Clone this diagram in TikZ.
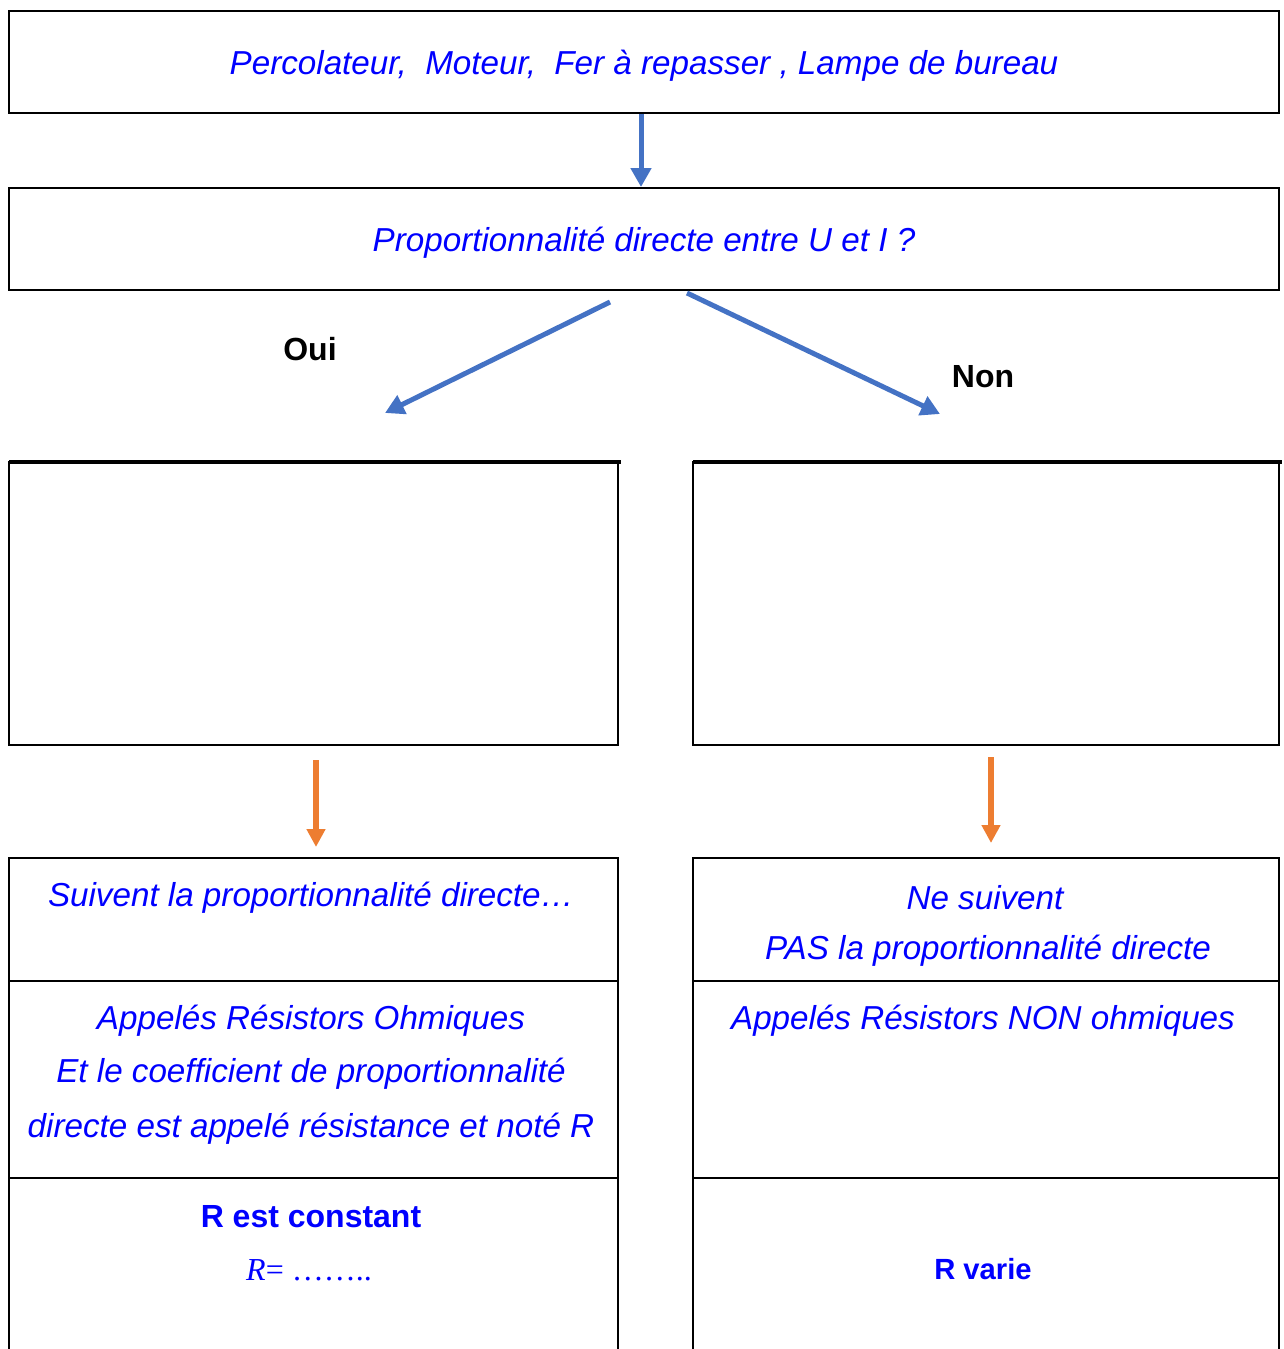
\documentclass[tikz,border=0pt]{standalone}
\usepackage{fontspec}
\setmainfont{Liberation Sans}
\newfontfamily\timesfont{Liberation Serif}
\usetikzlibrary{arrows.meta}

\definecolor{flecheBleu}{RGB}{68,114,196}
\definecolor{flecheOrange}{RGB}{237,125,49}
\definecolor{texteBleu}{RGB}{0,0,255}

\tikzset{
  cadre/.style={draw, line width=1pt, inner sep=0pt, text depth=0pt, font=\fontsize{16.6}{20}\selectfont\itshape, text=texteBleu},
  trait/.style={line width=1pt},
  traitHaut/.style={line width=2pt},
  fleche/.style={draw=flecheBleu, line width=2.5pt, -{Triangle[width=10pt,length=9.5pt]}},
  flecheO/.style={draw=flecheOrange, line width=2.6pt, -{Triangle[width=9pt,length=9pt]}},
  txt/.style={inner sep=0pt, font=\fontsize{16.6}{20}\selectfont\itshape, text=texteBleu},
  txtGras/.style={inner sep=0pt, font=\fontsize{16}{19}\selectfont\bfseries, text=texteBleu},
  reponse/.style={inner sep=0pt, font=\fontsize{16}{19}\selectfont\bfseries}
}

\begin{document}
\begin{tikzpicture}[x=0.5pt, y=-0.5pt]
        \clip (0,0) rectangle (1284,1349);
        \useasboundingbox (0,0) rectangle (1284,1349);

        % cadres du haut
        \node[cadre, minimum width=635pt, minimum height=51pt] (appareils) at (644,62)
            {Percolateur,\ \ Moteur,\ \ Fer à repasser , Lampe de bureau};
        \node[cadre, minimum width=635pt, minimum height=51pt] (question) at (644,239)
            {Proportionnalité directe entre U et I ?};
        \draw[fleche] ([xshift=-1.5pt]appareils.south) -- ([xshift=-1.5pt]question.north);

        % branches Oui / Non
        \coordinate (ouiDepart) at (610,302);
        \coordinate (ouiFin) at (385,413);
        \coordinate (nonDepart) at (687,293);
        \coordinate (nonFin) at (940,414);
        \draw[fleche] (ouiDepart) -- (ouiFin);
        \draw[fleche] (nonDepart) -- (nonFin);
        \node[reponse] (oui) at (310,349) {Oui};
        \node[reponse] (non) at (983,377) {Non};

        % cadres vides
        \node[draw, trait, minimum width=304.5pt, minimum height=141.5pt] (cadreOui) at (313.5,603.5) {};
        \node[draw, trait, minimum width=293pt, minimum height=141.5pt] (cadreNon) at (986,603.5) {};
        \draw[traitHaut] (9,462) -- (621,462);
        \draw[traitHaut] (693,462) -- (1282,462);

        % fleches oranges
        \coordinate (ohmDepart) at (316,760);
        \coordinate (ohmFin) at (316,847);
        \coordinate (nonOhmDepart) at (991,757);
        \coordinate (nonOhmFin) at (991,843);
        \draw[flecheO] (ohmDepart) -- (ohmFin);
        \draw[flecheO] (nonOhmDepart) -- (nonOhmFin);

        % tableaux du bas
        \draw[trait] (9,1400) -- (9,858) -- (618,858) -- (618,1400);
        \draw[trait] (9,981) -- (618,981);
        \draw[trait] (9,1178) -- (618,1178);
        \draw[trait] (693,1400) -- (693,858) -- (1279,858) -- (1279,1400);
        \draw[trait] (693,981) -- (1279,981);
        \draw[trait] (693,1178) -- (1279,1178);

        % textes gauche
        \node[txt] (suivent) at (311,898) {Suivent la proportionnalité directe…};
        \node[txt] (appelesOhm) at (311,1021) {Appelés Résistors Ohmiques};
        \node[txt] (coefficient) at (311,1074) {Et le coefficient de proportionnalité};
        \node[txt] (resistance) at (311,1129) {directe est appelé résistance et noté R};
        \node[txtGras] (constant) at (311,1217) {R est constant};
        \node[inner sep=0pt, text=texteBleu, font=\fontsize{16}{19}\selectfont\timesfont] (formule) at (309,1270)
            {\itshape R\upshape= ……..};

        % textes droite
        \node[txt] (neSuivent) at (985,898) {Ne suivent};
        \node[txt] (pas) at (988,951) {PAS la proportionnalité directe};
        \node[txt] (appelesNonOhm) at (983,1021) {Appelés Résistors NON ohmiques};
        \node[txtGras, font=\fontsize{14.6}{18}\selectfont\bfseries] (varie) at (983,1269) {R varie};

\end{tikzpicture}
\end{document}
